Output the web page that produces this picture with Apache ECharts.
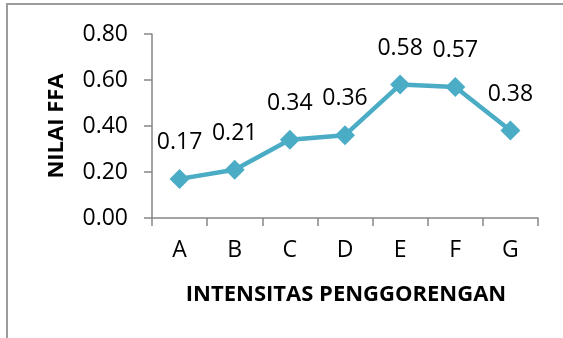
<!DOCTYPE html>
<html>
<head>
<meta charset="utf-8">
<script src="https://cdn.jsdelivr.net/npm/echarts@6/dist/echarts.min.js"></script>
<style>html,body{margin:0;padding:0;background:#fff}#c{width:563px;height:338px}</style>
</head>
<body>
<div id="c"></div>
<script>
var categories = ['A','B','C','D','E','F','G'];
var ffaValues = [0.17, 0.21, 0.34, 0.36, 0.58, 0.57, 0.38];
var xTitle = 'INTENSITAS PENGGORENGAN';
var yTitle = 'NILAI FFA';

var chart = echarts.init(document.getElementById('c'), null, {renderer:'canvas'});
var font = '"Open Sans", sans-serif';
chart.setOption({
  animation: false,
  backgroundColor: '#fff',
  graphic: [{
    type: 'rect', shape: {x: 7, y: 4, width: 700, height: 500},
    style: {fill: 'none', stroke: '#9c9c9c', lineWidth: 2}, silent: true, z: 0
  }, {
    type: 'text', x: 57, y: 126, rotation: Math.PI/2, 
    style: {text: yTitle, fontFamily: font, fontWeight: 'bold', fontSize: 22, fill: '#000', align: 'center', verticalAlign: 'middle'}
  }, {
    type: 'text', x: 346, y: 295,
    style: {text: xTitle, fontFamily: font, fontWeight: 'bold', fontSize: 22, fill: '#000', align: 'center', verticalAlign: 'middle'}
  }],
  grid: {left: 152, right: 25, top: 34, bottom: 120, containLabel: false},
  xAxis: {
    type: 'category', data: categories, boundaryGap: true,
    axisLine: {lineStyle: {color: '#868686', width: 1.5}},
    axisTick: {show: true, length: 8, lineStyle: {color: '#868686', width: 1.5}},
    axisLabel: {color: '#000', fontFamily: font, fontSize: 23, margin: 21},
    splitLine: {show: false}
  },
  yAxis: {
    type: 'value', min: 0, max: 0.8, interval: 0.2,
    axisLine: {show: true, lineStyle: {color: '#868686', width: 1.5}},
    axisTick: {show: true, length: 8, lineStyle: {color: '#868686', width: 1.5}},
    axisLabel: {color: '#000', fontFamily: font, fontSize: 23, margin: 24,
      formatter: function(v){ return v.toFixed(2); }},
    splitLine: {show: false}
  },
  series: [{
    type: 'line', data: ffaValues,
    symbol: 'diamond', symbolSize: 20,
    lineStyle: {color: '#4bacc6', width: 4.5},
    itemStyle: {color: '#4bacc6'},
    label: {show: true, position: 'top', distance: 15, color: '#000', fontFamily: font, fontSize: 23,
      formatter: function(p){ return p.value.toFixed(2); }}
  }]
});
</script>
</body>
</html>
